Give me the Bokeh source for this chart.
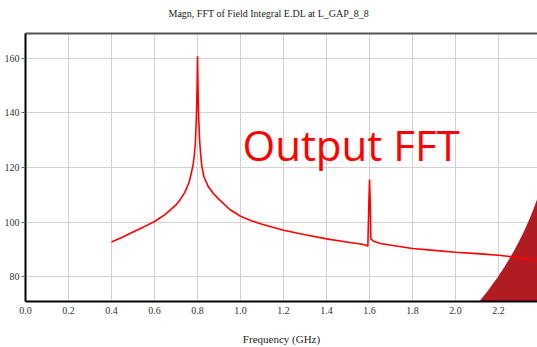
import numpy as np
from bokeh.plotting import figure
from bokeh.models import (Range1d, FixedTicker, NumeralTickFormatter, LinearAxis,
                          Label, PolyAnnotation)
from bokeh.embed import file_html
from bokeh.resources import INLINE

# ---- data ----
freq_ghz = [0.40, 0.45, 0.50, 0.55, 0.60, 0.65, 0.70, 0.72, 0.74, 0.75, 0.76, 0.77,
            0.78, 0.785, 0.79, 0.795, 0.798, 0.800, 0.802, 0.805, 0.81, 0.815, 0.82,
            0.83, 0.85, 0.875, 0.90, 0.95, 1.00, 1.05, 1.10, 1.20, 1.30, 1.40, 1.50,
            1.55, 1.58, 1.592, 1.597, 1.600, 1.603, 1.606, 1.62, 1.65, 1.70, 1.80,
            1.90, 2.00, 2.10, 2.20, 2.30, 2.35, 2.40]
magnitude = [92.7, 94.4, 96.3, 98.2, 100.2, 102.8, 106.3, 108.3, 110.8, 112.5, 114.5, 117.5,
             121.3, 124.5, 129.0, 139.0, 150.0, 160.8, 150.0, 139.0, 129.5, 124.5, 120.5,
             116.5, 113.0, 110.3, 108.3, 104.6, 102.1, 100.5, 99.2, 97.0, 95.3, 93.8, 92.6,
             92.0, 91.6, 91.1, 107.6, 115.6, 107.6, 93.8, 92.9, 92.1, 91.5, 90.3,
             89.6, 88.9, 88.4, 87.8, 86.9, 86.2, 85.0]

x_ticks = [0.0, 0.2, 0.4, 0.6, 0.8, 1.0, 1.2, 1.4, 1.6, 1.8, 2.0, 2.2, 2.4]
y_ticks = [80, 100, 120, 140, 160]

title_text = "Magn, FFT of Field Integral E.DL at L_GAP_8_8"
x_label = "Frequency (GHz)"
overlay_text = "Output FFT"

SERIF = "Liberation Serif"

p = figure(width=537, height=347, output_backend="svg", toolbar_location=None,
           x_range=Range1d(0, 2.381), y_range=Range1d(70.83, 169.17),
           min_border_left=25, min_border_right=0, min_border_top=0,
           min_border_bottom=45, background_fill_color="white",
           border_fill_color="white", outline_line_color=None)

p.title.text = title_text
p.title.align = "left"
p.title.offset = 143
p.title.standoff = 10
p.title.text_font = SERIF
p.title.text_font_size = "10px"
p.title.text_font_style = "normal"
p.title.text_color = "#222222"

# grids
p.xgrid.ticker = FixedTicker(ticks=x_ticks)
p.ygrid.ticker = FixedTicker(ticks=y_ticks)
p.grid.grid_line_color = "#d2d2d2"
p.grid.grid_line_width = 1

# x axis
xa = p.xaxis[0]
xa.ticker = FixedTicker(ticks=x_ticks)
xa.formatter = NumeralTickFormatter(format="0.0")
xa.axis_line_color = "black"
xa.axis_line_width = 2
xa.major_tick_out = 0
xa.major_tick_in = 0
xa.minor_tick_line_color = None
xa.major_label_text_font = SERIF
xa.major_label_text_font_size = "10px"
xa.major_label_text_color = "#333333"
xa.major_label_standoff = 5
xa.axis_label = x_label
xa.axis_label_text_font = SERIF
xa.axis_label_text_font_size = "11px"
xa.axis_label_text_font_style = "normal"
xa.axis_label_text_color = "#222222"
xa.axis_label_standoff = 16

# y axis
ya = p.yaxis[0]
ya.ticker = FixedTicker(ticks=y_ticks)
ya.axis_line_color = "black"
ya.axis_line_width = 2
ya.major_tick_out = 4
ya.major_tick_in = 0
ya.major_tick_line_color = "#666666"
ya.minor_tick_line_color = None
ya.major_label_text_font = SERIF
ya.major_label_text_font_size = "10px"
ya.major_label_text_color = "#333333"
ya.major_label_standoff = 2

# top border line (an empty axis; its blank label only reserves space)
top = LinearAxis(ticker=FixedTicker(ticks=[]), axis_line_color="#555555",
                 axis_line_width=2, major_tick_line_color=None,
                 minor_tick_line_color=None, major_label_text_font_size="0px",
                 axis_label="\u00a0", axis_label_text_font_size="7px",
                 axis_label_standoff=0)
p.add_layout(top, "above")

# decorative slide shape (bottom-right), canvas pixels
cx, cy, r = 225.0, 90.0, 330.0
deco_red = "#b01c22"
th_a = np.linspace(0.30, 0.95, 60)
p.add_layout(PolyAnnotation(
    xs=list(cx + r * np.cos(th_a)) + [600, 600],
    ys=list(cy + r * np.sin(th_a)) + [400, 150],
    xs_units="canvas", ys_units="canvas", fill_color=deco_red, fill_alpha=1.0,
    line_color=None, level="underlay"))

# the FFT curve
p.line(freq_ghz, magnitude, line_color="#ff0000", line_width=1.6)

p.add_layout(Label(x=1.009, y=128.5, text=overlay_text, text_color="#ff0000",
                   text_font="Open Sans", text_font_size="42px",
                   text_baseline="alphabetic"))

open("out.html", "w").write(file_html(p, INLINE))
